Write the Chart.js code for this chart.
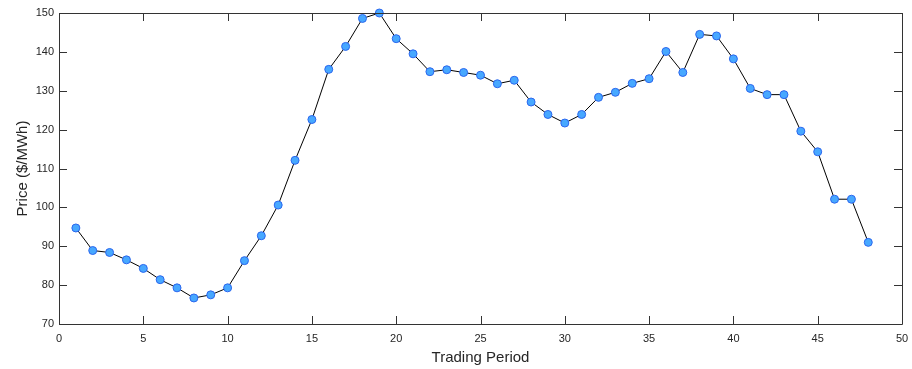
<!DOCTYPE html>
<html>
<head>
<meta charset="utf-8">
<script src="https://cdn.jsdelivr.net/npm/chart.js@4"></script>
<style>
  html, body { margin: 0; padding: 0; background: #fff; }
  #wrap { width: 912px; height: 369px; }
</style>
</head>
<body>
<div id="wrap"><canvas id="priceChart" width="912" height="369"></canvas></div>
<script>
// Trading periods and prices
const periods = [1, 2, 3, 4, 5, 6, 7, 8, 9, 10, 11, 12, 13, 14, 15, 16,
                 17, 18, 19, 20, 21, 22, 23, 24, 25, 26, 27, 28, 29, 30, 31, 32,
                 33, 34, 35, 36, 37, 38, 39, 40, 41, 42, 43, 44, 45, 46, 47, 48];
const prices = [94.7, 88.9, 88.4, 86.5, 84.3, 81.4, 79.3, 76.7, 77.5, 79.3, 86.3, 92.7, 100.6, 112.1, 122.6, 135.5,
                141.4, 148.6, 150.0, 143.4, 139.5, 134.9, 135.4, 134.7, 134.0, 131.8, 132.7, 127.1, 123.9, 121.7, 123.9, 128.3,
                129.6, 131.9, 133.1, 140.1, 134.7, 144.5, 144.1, 138.2, 130.6, 129.0, 129.0, 119.6, 114.3, 102.1, 102.1, 91.0];
const xTicks = [0, 5, 10, 15, 20, 25, 30, 35, 40, 45, 50];
const yTicks = [70, 80, 90, 100, 110, 120, 130, 140, 150];

const axisColor = '#333333';
const labelColor = '#262626';

// box around the plot with inward ticks on all four sides
const boxPlugin = {
    id: 'boxTicks',
    afterDraw(chart) {
        const ctx = chart.ctx;
        const a = chart.chartArea;
        const xs = chart.scales.x, ys = chart.scales.y;
        const len = 8;
        ctx.save();
        ctx.strokeStyle = axisColor;
        ctx.lineWidth = 1;
        ctx.beginPath();
        ctx.rect(Math.round(a.left) + 0.5, Math.round(a.top) + 0.5,
                 Math.round(a.right - a.left), Math.round(a.bottom - a.top));
        xTicks.forEach(v => {
            const px = Math.round(xs.getPixelForValue(v)) + 0.5;
            ctx.moveTo(px, a.bottom); ctx.lineTo(px, a.bottom - len);
            ctx.moveTo(px, a.top); ctx.lineTo(px, a.top + len);
        });
        yTicks.forEach(v => {
            const py = Math.round(ys.getPixelForValue(v)) + 0.5;
            ctx.moveTo(a.left, py); ctx.lineTo(a.left + len, py);
            ctx.moveTo(a.right, py); ctx.lineTo(a.right - len, py);
        });
        ctx.stroke();
        ctx.restore();
    }
};

const ctx = document.getElementById('priceChart');
new Chart(ctx, {
    type: 'line',
    data: {
        datasets: [{
            data: periods.map((p, i) => ({ x: p, y: prices[i] })),
            borderColor: '#000000',
            borderWidth: 1,
            backgroundColor: '#47a8ff',
            pointBackgroundColor: '#47a8ff',
            pointBorderColor: '#2b66ee',
            pointBorderWidth: 1,
            pointRadius: 4,
            tension: 0,
            clip: false
        }]
    },
    options: {
        responsive: false,
        animation: false,
        devicePixelRatio: 1,
        layout: { padding: { left: 0, right: 10, top: 13, bottom: 0 } },
        plugins: { legend: { display: false }, tooltip: { enabled: false } },
        scales: {
            x: {
                type: 'linear',
                min: 0, max: 50,
                afterFit: s => { s.height = 45; s.paddingRight = 0; s.paddingLeft = 0; },
                afterBuildTicks: s => { s.ticks = xTicks.map(v => ({ value: v })); },
                grid: { display: false, drawTicks: false },
                border: { display: false },
                ticks: { autoSkip: false, maxRotation: 0, color: labelColor, padding: 8, font: { family: 'Liberation Sans', size: 11 } },
                title: {
                    display: true, text: 'Trading Period', color: labelColor,
                    font: { family: 'Liberation Sans', size: 15 }, padding: { top: 2, bottom: 2 }
                }
            },
            y: {
                min: 70, max: 150,
                afterFit: s => { s.width = 59; s.paddingTop = 0; s.paddingBottom = 0; },
                afterBuildTicks: s => { s.ticks = yTicks.map(v => ({ value: v })); },
                grid: { display: false, drawTicks: false },
                border: { display: false },
                ticks: { autoSkip: false, color: labelColor, padding: 5, font: { family: 'Liberation Sans', size: 11 } },
                title: {
                    display: true, text: 'Price ($/MWh)', color: labelColor,
                    font: { family: 'Liberation Sans', size: 15 }, padding: { top: 14, bottom: 0 }
                }
            }
        }
    },
    plugins: [boxPlugin]
});
</script>
</body>
</html>
